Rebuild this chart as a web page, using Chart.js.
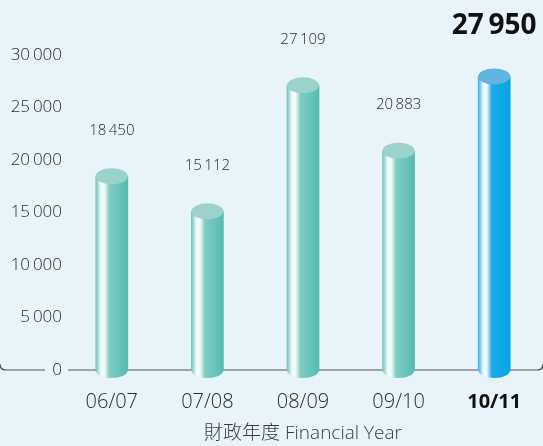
<!DOCTYPE html>
<html>
<head>
<meta charset="utf-8">
<script src="https://cdn.jsdelivr.net/npm/chart.js@4/dist/chart.umd.min.js"></script>
<style>
  html, body { margin: 0; padding: 0; background: #e8f3fa; }
  #chart { display: block; }
</style>
</head>
<body>
<canvas id="chart" width="543" height="446"></canvas>
<script>
// Financial years and yearly totals
const years = ['06/07', '07/08', '08/09', '09/10', '10/11'];
const totals = [18450, 15112, 27109, 20883, 27950];
const yTicks = [0, 5000, 10000, 15000, 20000, 25000, 30000];

const FONT = "'Open Sans', 'Noto Sans', sans-serif";
const TEAL = { top: '#9bd2cc', edge: '#6ec4ba', light: '#f2fbfa', mid: '#80cdc4', dark: '#55bbb0' };
const BLUE = { top: '#5db5e0', edge: '#3aafe4', light: '#f0f8fd', mid: '#1eaae7', dark: '#00a4e4' };

function fmt(n) {
  // thin space as thousands separator
  return n.toLocaleString('en-US').replace(/,/g, '\u2009');
}

function paletteFor(i) {
  return i === years.length - 1 ? BLUE : TEAL;
}

function bodyGradient(ctx, x, w, p) {
  const g = ctx.createLinearGradient(x - w / 2, 0, x + w / 2, 0);
  g.addColorStop(0, p.edge);
  g.addColorStop(0.16, p.light);
  g.addColorStop(0.27, p.light);
  g.addColorStop(0.42, p.mid);
  g.addColorStop(1, p.dark);
  return g;
}

// baseline with rounded ends, broken around the "0" tick label
const baseline = {
  id: 'baseline',
  beforeDatasetsDraw(chart) {
    const ctx = chart.ctx;
    const y = chart.scales.y.getPixelForValue(0);
    const r = 6;
    ctx.save();
    ctx.strokeStyle = '#555';
    ctx.lineWidth = 1.2;
    ctx.beginPath();
    ctx.moveTo(0, y - r);
    ctx.quadraticCurveTo(0, y, r, y);
    ctx.lineTo(45, y);
    ctx.moveTo(68, y);
    ctx.lineTo(chart.width - r, y);
    ctx.quadraticCurveTo(chart.width, y, chart.width, y - r);
    ctx.stroke();
    ctx.restore();
  }
};

// cylinder caps and value labels
const cylinders = {
  id: 'cylinders',
  afterDatasetsDraw(chart) {
    const ctx = chart.ctx;
    const ry = 8;
    chart.getDatasetMeta(0).data.forEach((bar, i) => {
      const p = paletteFor(i);
      const w = bar.width;
      ctx.save();
      // rounded bottom
      ctx.fillStyle = bodyGradient(ctx, bar.x, w, p);
      ctx.beginPath();
      ctx.ellipse(bar.x, bar.base, w / 2, ry, 0, 0, Math.PI);
      ctx.fill();
      // top cap
      ctx.fillStyle = p.top;
      ctx.beginPath();
      ctx.ellipse(bar.x, bar.y, w / 2, ry, 0, 0, Math.PI * 2);
      ctx.fill();
      // value label
      const last = i === years.length - 1;
      ctx.fillStyle = last ? '#111' : '#2a2a2a';
      ctx.font = last ? `700 28px ${FONT}` : `300 15px ${FONT}`;
      ctx.textAlign = 'center';
      ctx.textBaseline = 'middle';
      ctx.fillText(fmt(totals[i]), bar.x, bar.y - (last ? 50 : 46));
      ctx.restore();
    });
  }
};

new Chart(document.getElementById('chart'), {
  type: 'bar',
  data: {
    labels: years,
    datasets: [{
      data: totals,
      barThickness: 32,
      borderWidth: 0,
      backgroundColor: (c) => {
        const chart = c.chart;
        if (!chart.chartArea) return TEAL.mid;
        const x = chart.scales.x.getPixelForValue(c.dataIndex);
        return bodyGradient(chart.ctx, x, 32, paletteFor(c.dataIndex));
      }
    }]
  },
  options: {
    responsive: false,
    animation: false,
    layout: { padding: { top: 55, right: 1, left: 0, bottom: 0 } },
    plugins: {
      legend: { display: false },
      tooltip: { enabled: false }
    },
    scales: {
      x: {
        grid: { display: false, drawTicks: false },
        border: { display: false },
        ticks: {
          padding: 20,
          color: (c) => c.index === years.length - 1 ? '#111' : '#2a2a2a',
          font: (c) => ({
            family: FONT,
            size: 20,
            weight: c.index === years.length - 1 ? '700' : '300'
          })
        },
        title: {
          display: true,
          text: '財政年度 Financial Year',
          color: '#3a3a3a',
          font: { family: FONT + ", 'Noto Sans CJK TC'", size: 19, weight: '300' },
          padding: { top: 2, bottom: 1 }
        },
        afterFit: (scale) => { scale.height = 76; }
      },
      y: {
        min: 0,
        max: 30000,
        afterBuildTicks: (scale) => { scale.ticks = yTicks.map(v => ({ value: v })); },
        grid: { display: false, drawTicks: false },
        border: { display: false },
        ticks: {
          padding: 2,
          color: '#2a2a2a',
          font: { family: FONT, size: 17, weight: '300' },
          callback: (v) => fmt(v)
        },
        afterFit: (scale) => { scale.width = 64; }
      }
    }
  },
  plugins: [baseline, cylinders]
});
</script>
</body>
</html>
